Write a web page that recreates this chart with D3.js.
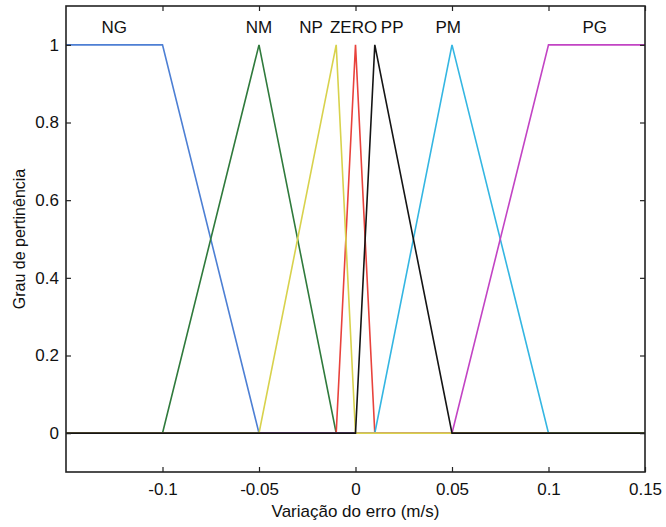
<!DOCTYPE html>
<html>
<head>
<meta charset="utf-8">
<script src="https://cdn.jsdelivr.net/npm/d3@7"></script>
<style>
  body { margin: 0; background: #fff; }
  text { font-family: "Liberation Sans", Arial, sans-serif; fill: #111; }
</style>
</head>
<body>
<svg id="chart"></svg>
<script>
// membership functions (MATLAB style params)
const mfNames  = ['NG', 'NM', 'NP', 'ZERO', 'PP', 'PM', 'PG'];
const mfParams = [
  [-0.15, -0.15, -0.1, -0.05],   // trapmf
  [-0.1, -0.05, -0.01],
  [-0.05, -0.01, 0],
  [-0.01, 0, 0.01],
  [0, 0.01, 0.05],
  [0.01, 0.05, 0.1],
  [0.05, 0.1, 0.15, 0.15]        // trapmf
];
const mfColors = ['#4d7fd4', '#2f7a3c', '#d8d24c', '#e8423c', '#151515', '#34b6e2', '#c244c4'];
const labelX   = [-0.125, -0.05, -0.023, -0.001, 0.019, 0.048, 0.124];
const drawOrder = [0, 1, 3, 5, 6, 2, 4];

const xTicks = [-0.1, -0.05, 0, 0.05, 0.1, 0.15];
const yTicks = [0, 0.2, 0.4, 0.6, 0.8, 1];

const width = 666, height = 527;
const margins = {top: 6, right: 21, bottom: 55, left: 66};
const w = width - margins.left - margins.right,
      h = height - margins.top - margins.bottom;

const svg = d3.select('#chart')
  .attr('width', width)
  .attr('height', height);

const chart = svg.append('g')
  .attr('transform', 'translate(' + margins.left + ',' + margins.top + ')');

const xScale = d3.scaleLinear().domain([-0.15, 0.15]).range([0, w]);
const yScale = d3.scaleLinear().domain([-0.1, 1.1]).range([h, 0]);

// turn params into polyline vertices over the whole range
function mfPoints(p) {
  let pts;
  if (p.length === 3) pts = [[p[0], 0], [p[1], 1], [p[2], 0]];
  else pts = [[p[0], 0], [p[1], 1], [p[2], 1], [p[3], 0]];
  if (p.length === 4 && p[0] === p[1]) pts = [[p[1], 1], [p[2], 1], [p[3], 0]];
  if (p.length === 4 && p[2] === p[3]) pts = [[p[0], 0], [p[1], 1], [p[2], 1]];
  if (pts[0][0] > -0.15) pts.unshift([-0.15, 0]);
  if (pts[pts.length - 1][0] < 0.15) pts.push([0.15, 0]);
  return pts;
}

const line = d3.line()
  .x(d => xScale(d[0]))
  .y(d => yScale(d[1]));

chart.selectAll('path.mf')
  .data(drawOrder)
  .enter().append('path')
  .attr('class', 'mf')
  .attr('d', i => line(mfPoints(mfParams[i])))
  .attr('fill', 'none')
  .attr('stroke', i => mfColors[i])
  .attr('stroke-width', 1.6);

chart.selectAll('text.mflabel')
  .data(mfNames)
  .enter().append('text')
  .attr('class', 'mflabel')
  .attr('x', (d, i) => xScale(labelX[i]))
  .attr('y', yScale(1.046) + 6)
  .style('text-anchor', 'middle')
  .style('font-size', '17px')
  .text(d => d);

// axes, MATLAB box style with inward ticks
const tick = 5;
const xAxisB = chart.append('g')
  .attr('transform', 'translate(0,' + h + ')')
  .call(d3.axisBottom(xScale).tickValues(xTicks).tickSizeInner(-tick).tickSizeOuter(0)
    .tickFormat(d => d === 0 ? '0' : String(d)).tickPadding(11));
const xAxisT = chart.append('g')
  .call(d3.axisTop(xScale).tickValues(xTicks).tickSizeInner(-tick).tickSizeOuter(0).tickFormat(''));
const yAxisL = chart.append('g')
  .call(d3.axisLeft(yScale).tickValues(yTicks).tickSizeInner(-tick).tickSizeOuter(0)
    .tickFormat(d => String(d)).tickPadding(7));
const yAxisR = chart.append('g')
  .attr('transform', 'translate(' + w + ',0)')
  .call(d3.axisRight(yScale).tickValues(yTicks).tickSizeInner(-tick).tickSizeOuter(0).tickFormat(''));

[xAxisB, xAxisT, yAxisL, yAxisR].forEach(a => {
  a.select('.domain').remove();
  a.selectAll('line').attr('stroke', '#222').attr('stroke-width', 1.2);
  a.selectAll('text').style('font-size', '17px').style('font-family', '"Liberation Sans", Arial, sans-serif').attr('fill', '#111');
});

chart.append('rect')
  .attr('width', w)
  .attr('height', h)
  .attr('fill', 'none')
  .attr('stroke', '#222')
  .attr('stroke-width', 1.6);

chart.append('text')
  .style('font-size', '17px')
  .style('text-anchor', 'middle')
  .attr('x', w / 2)
  .attr('y', h + 45)
  .text('Variação do erro (m/s)');

chart.append('text')
  .style('font-size', '16px')
  .style('text-anchor', 'middle')
  .attr('x', -yScale(0.5))
  .attr('y', -41)
  .attr('transform', 'rotate(-90)')
  .text('Grau de pertinência');
</script>
</body>
</html>
